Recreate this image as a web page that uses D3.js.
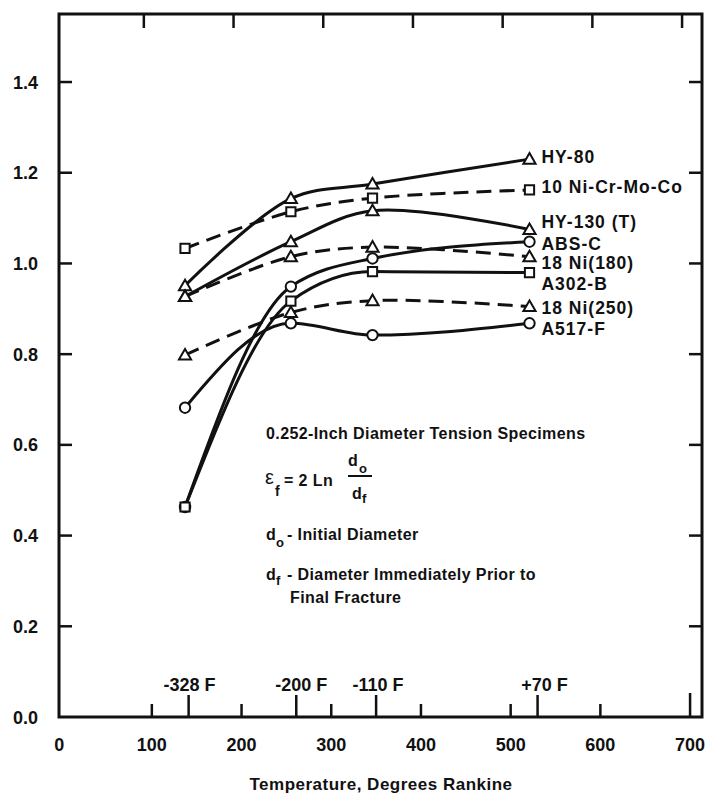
<!DOCTYPE html>
<html>
<head>
<meta charset="utf-8">
<script src="https://cdn.jsdelivr.net/npm/d3@7"></script>
<style>
  body { margin: 0; background: #fff; }
  text { font-family: "Liberation Sans", Arial, sans-serif; font-weight: bold; fill: #111; }
</style>
</head>
<body>
<div id="chart"></div>
<script>
// data (x in degrees Rankine, y = true fracture strain)
const temps = [137, 255, 346, 521];
const names = ["HY-80", "10 Ni-Cr-Mo-Co", "HY-130 (T)", "ABS-C", "18 Ni(180)", "A302-B", "18 Ni(250)", "A517-F"];
const shapes = ["tri", "sq", "tri", "circ", "tri", "sq", "tri", "circ"];
const dashed = [false, true, false, false, true, false, true, false];
const hy80   = [0.951, 1.143, 1.175, 1.230];
const ni10   = [1.033, 1.114, 1.144, 1.162];
const hy130  = [0.927, 1.048, 1.116, 1.075];
const absC   = [0.463, 0.949, 1.011, 1.048];
const ni180  = [0.927, 1.015, 1.036, 1.015];
const a302   = [0.463, 0.917, 0.982, 0.980];
const ni250  = [0.798, 0.892, 0.918, 0.905];
const a517   = [0.682, 0.868, 0.842, 0.868];
const allSeries = [hy80, ni10, hy130, absC, ni180, a302, ni250, a517];
// where each series name sits (in strain units), names are spread apart
const labelValues = [1.235, 1.169, 1.092, 1.045, 1.001, 0.955, 0.902, 0.856];

const xTicks = [0, 100, 200, 300, 400, 500, 600, 700];
const yTicks = [0.0, 0.2, 0.4, 0.6, 0.8, 1.0, 1.2, 1.4];
const fTicks = [141, 261, 350, 530];
const fLabels = ["-328 F", "-200 F", "-110 F", "+70 F"];

const W = 706, H = 796;
const svg = d3.select("#chart").append("svg")
  .attr("width", W).attr("height", H);

const x = d3.scaleLinear().domain([-3.5, 713.3]).range([59, 702]);
const y = d3.scaleLinear().domain([0, 1.55]).range([717, 14]);

// frame
svg.append("rect")
  .attr("x", x(-3.5)).attr("y", y(1.55))
  .attr("width", x(713.3) - x(-3.5)).attr("height", y(0) - y(1.55))
  .attr("fill", "none").attr("stroke", "#111").attr("stroke-width", 3);

// inward ticks
const ticks = svg.append("g").attr("stroke", "#111").attr("stroke-width", 2.5);
yTicks.filter(v => v > 0).forEach(v => {
  ticks.append("line").attr("x1", x(-3.5)).attr("x2", x(-3.5) + 13).attr("y1", y(v)).attr("y2", y(v));
  ticks.append("line").attr("x1", x(713.3)).attr("x2", x(713.3) - 13).attr("y1", y(v)).attr("y2", y(v));
});
xTicks.filter(v => v > 0).forEach(v => {
  ticks.append("line").attr("x1", x(v)).attr("x2", x(v))
    .attr("y1", y(0)).attr("y2", y(0) - (v === 700 ? 24 : 13));
  // the top edge of the scan is a little skewed
  ticks.append("line").attr("x1", x(v) - 8).attr("x2", x(v) - 8)
    .attr("y1", y(1.55)).attr("y2", y(1.55) + 14);
});
fTicks.forEach(v => {
  ticks.append("line").attr("x1", x(v)).attr("x2", x(v)).attr("y1", y(0)).attr("y2", y(0) - 22);
});

// tick labels
svg.selectAll(".ylab").data(yTicks).join("text")
  .attr("x", 38).attr("y", d => y(d) + 6.5)
  .attr("text-anchor", "end").style("font-size", "18px")
  .text(d => d.toFixed(1));
svg.selectAll(".xlab").data(xTicks).join("text")
  .attr("x", d => x(d) - (d === 0 ? 3 : 0)).attr("y", 751)
  .attr("text-anchor", "middle").style("font-size", "18px")
  .text(d => d);
svg.selectAll(".flab").data(fTicks).join("text")
  .attr("x", (d, i) => x(d) + [1, 5, 2, 7][i]).attr("y", 691)
  .attr("text-anchor", "middle").style("font-size", "18px")
  .text((d, i) => fLabels[i]);

svg.append("text")
  .attr("x", 381).attr("y", 790)
  .attr("text-anchor", "middle").style("font-size", "17px").style("letter-spacing", "0.5px")
  .text("Temperature, Degrees Rankine");

// curves: the ones starting low rise steeply and keep a monotone fit, the rest are smooth
const steep = s => s[0] < 0.75;
const line = d3.line()
  .x((d, i) => x(temps[i]))
  .y(d => y(d));

svg.append("g").selectAll("path").data(allSeries).join("path")
  .attr("d", d => line.curve(steep(d) ? d3.curveMonotoneX : d3.curveCatmullRom.alpha(0.5))(d))
  .attr("fill", "none").attr("stroke", "#111")
  .attr("stroke-width", 3)
  .attr("stroke-dasharray", (d, i) => dashed[i] ? "15,8" : null);

// markers
const sym = { tri: d3.symbolTriangle, sq: d3.symbolSquare, circ: d3.symbolCircle };
const size = { tri: 64, sq: 85, circ: 85 };
allSeries.forEach((vals, s) => {
  svg.append("g").selectAll("path").data(vals).join("path")
    .attr("transform", (d, i) => `translate(${x(temps[i])},${y(d) + (shapes[s] === "tri" ? 1 : 0)})`)
    .attr("d", d3.symbol().type(sym[shapes[s]]).size(size[shapes[s]]))
    .attr("fill", "#fff").attr("stroke", "#111").attr("stroke-width", 2);
});

// series names
svg.selectAll(".name").data(names).join("text")
  .attr("x", x(temps[3]) + 12).attr("y", (d, i) => y(labelValues[i]) + 6.5)
  .style("font-size", "17.5px").style("letter-spacing", "1px")
  .text(d => d);

// notes
const note = svg.append("g").style("font-size", "16px").style("letter-spacing", "0.4px");
note.append("text").attr("x", 266).attr("y", 439).text("0.252-Inch Diameter Tension Specimens");

note.append("text").attr("x", 265).attr("y", 484)
  .style("font-weight", "normal").style("font-size", "20px").text("\u03b5");
note.append("text").attr("x", 275).attr("y", 496).style("font-size", "14px").text("f");
note.append("text").attr("x", 284).attr("y", 486).text("= 2 Ln");
note.append("text").attr("x", 348).attr("y", 466).text("d");
note.append("text").attr("x", 359).attr("y", 473).style("font-size", "13px").text("o");
note.append("line").attr("x1", 348).attr("x2", 372).attr("y1", 476).attr("y2", 476)
  .attr("stroke", "#111").attr("stroke-width", 2);
note.append("text").attr("x", 352).attr("y", 499).text("d");
note.append("text").attr("x", 362).attr("y", 503).style("font-size", "13px").text("f");

note.append("text").attr("x", 266).attr("y", 540).text("d");
note.append("text").attr("x", 276).attr("y", 547).style("font-size", "13px").text("o");
note.append("text").attr("x", 287).attr("y", 540).text("- Initial Diameter");

note.append("text").attr("x", 266).attr("y", 580).text("d");
note.append("text").attr("x", 276).attr("y", 585).style("font-size", "13px").text("f");
note.append("text").attr("x", 287).attr("y", 580).text("- Diameter Immediately Prior to");
note.append("text").attr("x", 290).attr("y", 603).text("Final Fracture");
</script>
</body>
</html>
